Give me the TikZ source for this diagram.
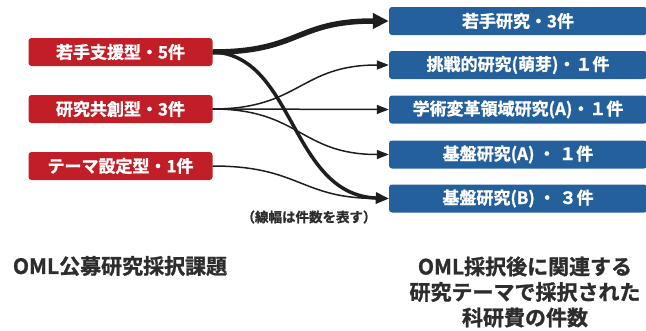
\documentclass[tikz,border=0pt]{standalone}
\usepackage{fontspec}
\setmainfont{Noto Sans CJK JP Bold}[FakeBold=1.2]
\usetikzlibrary{arrows.meta}
\definecolor{boxred}{RGB}{193,30,40}
\definecolor{boxblue}{RGB}{36,96,156}
\definecolor{txtgray}{RGB}{45,45,45}
\definecolor{linegray}{RGB}{30,30,30}
\tikzset{
  lbox/.style={fill=boxred, rounded corners=3pt, minimum width=184pt, minimum height=28pt, inner sep=0pt, text=white, font=\fontsize{17}{19}\selectfont},
  rbox/.style={fill=boxblue, rounded corners=3pt, minimum width=258pt, minimum height=28pt, inner sep=0pt, text=white, font=\fontsize{17}{19}\selectfont},
  conn/.style={draw=linegray, line width=#1},
  tipbig/.style={-{Triangle[length=16pt,width=15pt]}},
  tipmid/.style={-{Triangle[length=13pt,width=11pt]}},
  tipsmall/.style={-{Triangle[length=12pt,width=9pt]}},
  lbl/.style={text=txtgray, font=\fontsize{21}{25.5}\selectfont, align=center},
}
\begin{document}
\begin{tikzpicture}[x=1pt,y=-1pt]
\useasboundingbox (0,0) rectangle (646,330);
\node[lbox] (l1) at (120.5,52) {若手支援型・5件};
\node[lbox] (l2) at (120.5,109) {研究共創型・3件};
\node[lbox] (l3) at (120.5,166) {テーマ設定型・1件};
\node[rbox] (r1) at (518,21) {若手研究・3件};
\node[rbox] (r2) at (518,65) {挑戦的研究(萌芽)・１件};
\node[rbox] (r3) at (518,109.5) {学術変革領域研究(A)・１件};
\node[rbox] (r4) at (518,154.5) {基盤研究(A)\ ・ １件};
\node[rbox] (r5) at (518,198.5) {基盤研究(B)\ ・ ３件};
\draw[conn=5.5pt, tipbig] (l1.east) .. controls (300,52) and (295,21) .. (r1.west);
\draw[conn=3.5pt, tipmid] (l1.east) .. controls (295,55) and (290,195) .. (r5.west);
\draw[conn=1.5pt, tipsmall] (l2.east) .. controls (300,109) and (300,65) .. (r2.west);
\draw[conn=1.5pt, tipsmall] (l2.east) -- (r3.west);
\draw[conn=1.5pt, tipsmall] (l2.east) .. controls (300,109) and (300,154.5) .. (r4.west);
\draw[conn=1.5pt, tipsmall] (l3.east) .. controls (300,166) and (300,198.5) .. (r5.west);
\node[text=txtgray, font=\fontsize{13.5}{15}\selectfont] (cap) at (309,217) {（線幅は件数を表す）};
\node[lbl] (t1) at (120,266) {OML公募研究採択課題};
\node[lbl] (t2) at (525,292) {OML採択後に関連する\\研究テーマで採択された\\科研費の件数};
\end{tikzpicture}
\end{document}
